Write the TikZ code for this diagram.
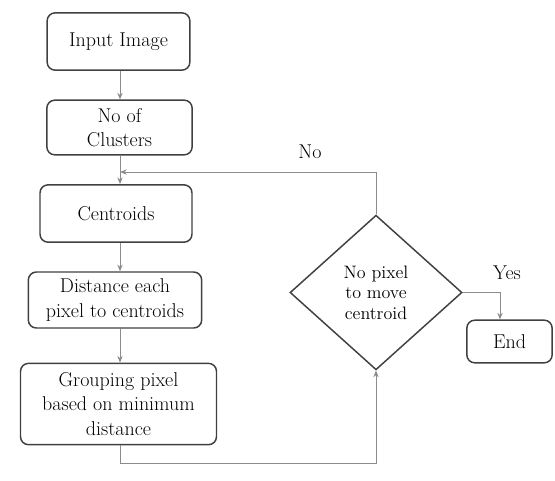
\documentclass[tikz,border=0pt]{standalone}
\usetikzlibrary{shapes.geometric,arrows.meta}
\begin{document}
\begin{tikzpicture}[x=0.75pt,y=-0.75pt,
  box/.style={draw=black!75,line width=1.1pt,rounded corners=6pt,align=center,inner sep=0pt,font=\fontsize{15}{18.5}\selectfont},
  cond/.style={draw=black!75,line width=1.1pt,diamond,aspect=1.11,align=center,inner sep=0pt,minimum width=129pt,minimum height=116pt,font=\fontsize{13.5}{15.5}\selectfont},
  conn/.style={draw=black!45,line width=0.7pt},
  arr/.style={conn,-{Stealth[length=5pt,width=4pt]}},
  lbl/.style={font=\fontsize{15}{17}\selectfont}]
\useasboundingbox (0,0) rectangle (555,480);
\node[box,minimum width=107pt,minimum height=43pt] (inp) at (118.5,41.5) {Input Image};
\node[box,minimum width=109pt,minimum height=41pt] (noc) at (119.5,127.5) {No of\\Clusters};
\node[box,minimum width=114pt,minimum height=43pt] (cen) at (116,213.5) {Centroids};
\node[box,minimum width=130pt,minimum height=42pt] (dis) at (115,300) {Distance each\\pixel to centroids};
\node[box,minimum width=147pt,minimum height=61pt] (grp) at (118.5,404) {Grouping pixel\\based on minimum\\distance};
\node[cond] (dec) at (376,292.5) {No pixel\\to move\\centroid};
\node[box,minimum width=64pt,minimum height=32pt] (end) at (509.5,341.5) {End};
\coordinate (j) at (120,172);
\coordinate (g) at (120,463);
\coordinate (gr) at (376,463);
\draw[arr] (inp.south -| 120,0) -- (noc.north -| 120,0);
\draw[arr] (noc.south -| 120,0) -- (cen.north -| 120,0);
\draw[arr] (cen.south -| 120,0) -- (dis.north -| 120,0);
\draw[arr] (dis.south -| 120,0) -- (grp.north -| 120,0);
\draw[arr] (grp.south -| 120,0) -- (g) -- (gr) -- (dec.south);
\draw[arr] (dec.north) |- (j);
\draw[arr] (dec.east) -| (end.north -| 500,0);
\node[lbl] (no) at (310,152) {No};
\node[lbl] (yes) at (507,273) {Yes};
\end{tikzpicture}
\end{document}
